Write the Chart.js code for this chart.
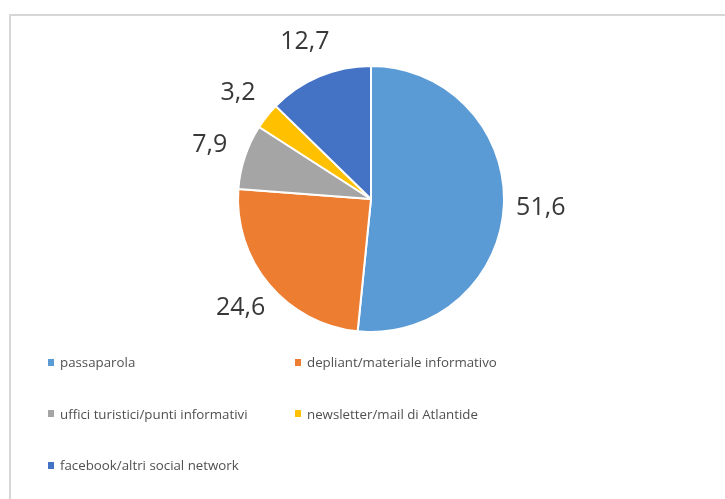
<!DOCTYPE html>
<html>
<head>
<meta charset="utf-8">
<script src="https://cdn.jsdelivr.net/npm/chart.js@4.4.1/dist/chart.umd.min.js"></script>
<style>
    html, body { margin: 0; padding: 0; background: #fff; }
    #wrap { position: relative; width: 725px; height: 499px; overflow: hidden; }
    #frame {
        position: absolute; left: 9px; top: 14px; width: 800px; height: 600px;
        border-left: 2px solid #d6d6d6; border-top: 2px solid #d6d6d6;
    }
    #pie { position: absolute; left: 0; top: 0; }
    #legend {
        position: absolute; left: 48px; top: 349px;
        display: grid; grid-template-columns: 247px 247px; grid-auto-rows: 51.5px;
        font-family: "Open Sans", sans-serif; font-size: 13.3px; color: #505050;
    }
    #legend .item { display: flex; align-items: center; height: 26px; }
    #legend .box { width: 6px; height: 7px; margin-right: 6px; }
</style>
</head>
<body>
<div id="wrap">
    <div id="frame"></div>
    <canvas id="pie" width="725" height="499"></canvas>
    <div id="legend"></div>
</div>
<script>
const categories = [
    "passaparola",
    "depliant/materiale informativo",
    "uffici turistici/punti informativi",
    "newsletter/mail di Atlantide",
    "facebook/altri social network"
];
const percentages = [51.6, 24.6, 7.9, 3.2, 12.7];
const sliceColors = ["#5B9BD5", "#ED7D31", "#A5A5A5", "#FFC000", "#4472C4"];

// value labels outside each slice, centred a fixed distance beyond the rim
const outsideLabels = {
    id: "outsideLabels",
    afterDatasetsDraw(chart) {
        const ctx = chart.ctx;
        const meta = chart.getDatasetMeta(0);
        ctx.save();
        ctx.font = "25px 'Open Sans', sans-serif";
        ctx.fillStyle = "#383838";
        ctx.textAlign = "center";
        ctx.textBaseline = "middle";
        meta.data.forEach((arc, i) => {
            const p = arc.getProps(["x", "y", "startAngle", "endAngle", "outerRadius"], true);
            const mid = (p.startAngle + p.endAngle) / 2;
            const d = p.outerRadius + 37;
            const text = percentages[i].toFixed(1).replace(".", ",");
            ctx.fillText(text, p.x + Math.cos(mid) * d, p.y + Math.sin(mid) * d);
        });
        ctx.restore();
    }
};

new Chart(document.getElementById("pie").getContext("2d"), {
    type: "pie",
    data: {
        labels: categories,
        datasets: [{
            data: percentages,
            backgroundColor: sliceColors,
            borderColor: "#ffffff",
            borderWidth: 2
        }]
    },
    options: {
        responsive: false,
        animation: false,
        events: [],
        layout: { padding: { left: 237, right: 220, top: 65, bottom: 166 } },
        plugins: {
            legend: { display: false },
            tooltip: { enabled: false }
        }
    },
    plugins: [outsideLabels]
});

// legend in two columns under the pie
const legend = document.getElementById("legend");
categories.forEach((name, i) => {
    const item = document.createElement("div");
    item.className = "item";
    const box = document.createElement("span");
    box.className = "box";
    box.style.background = sliceColors[i];
    const label = document.createElement("span");
    label.textContent = name;
    item.appendChild(box);
    item.appendChild(label);
    legend.appendChild(item);
});
</script>
</body>
</html>
